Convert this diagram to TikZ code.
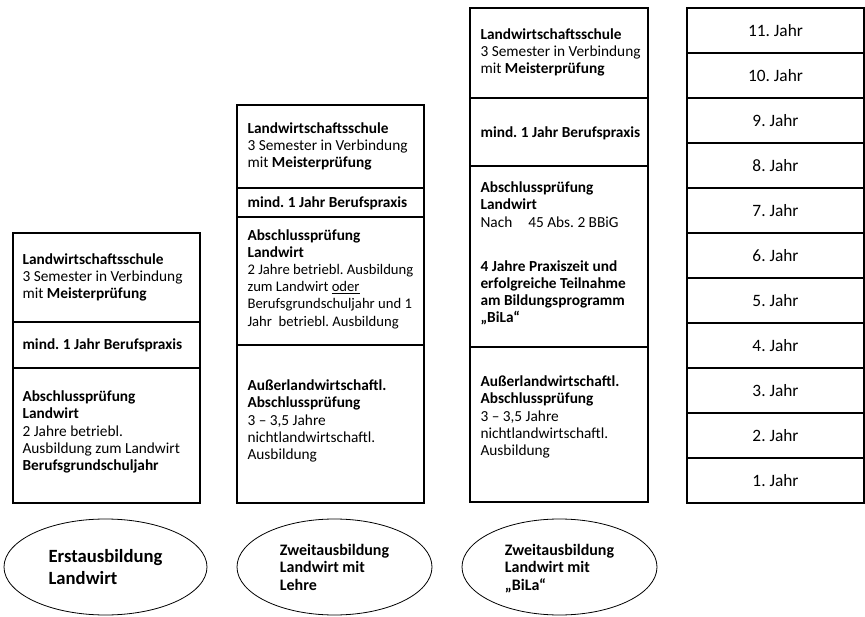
\documentclass[tikz,border=0pt]{standalone}
\usepackage{fontspec}
\setmainfont{Carlito}
\usetikzlibrary{shapes.geometric}
\newcommand{\klein}{\fontsize{11}{12}\selectfont}
\frenchspacing

\begin{document}
\begin{tikzpicture}[x=0.75pt,y=-0.75pt,line width=0.8pt,
  txt/.style={anchor=west,align=left,inner sep=0pt,font=\fontsize{11.5}{12.9}\selectfont},
  oval/.style={draw,ellipse,line width=0.6pt,minimum height=72pt,align=left,inner sep=0pt,text depth=0pt},
  jahr/.style={font=\fontsize{13}{14}\selectfont,inner sep=0pt}]
\useasboundingbox (0,0) rectangle (865,617);
\draw (13,233) rectangle (200,503) (13,322) -- (200,322) (13,368) -- (200,368);
\node[txt] (s1a) at (22,277.5) {\textbf{Landwirtschaftsschule}\\3 Semester in Verbindung\\mit \textbf{Meisterprüfung}};
\node[txt] (s1b) at (22,345) {\textbf{mind. 1 Jahr Berufspraxis}};
\node[txt] (s1c) at (22,432) {\textbf{Abschlussprüfung}\\\textbf{Landwirt}\\2 Jahre betriebl.\\Ausbildung zum Landwirt\\\textbf{Berufsgrundschuljahr}};
\draw (237,105) rectangle (424,503) (237,188) -- (424,188) (237,217) -- (424,217) (237,345) -- (424,345);
\node[txt] (s2a) at (247,146.5) {\textbf{Landwirtschaftsschule}\\3 Semester in Verbindung\\mit \textbf{Meisterprüfung}};
\node[txt] (s2b) at (247,203) {\textbf{mind. 1 Jahr Berufspraxis}};
\node[txt] (s2c) at (247,279) {\textbf{Abschlussprüfung}\\\textbf{Landwirt}\\\klein 2 Jahre betriebl. Ausbildung\\\klein zum Landwirt \underline{oder}\\\klein Berufsgrundschuljahr und 1\\\klein Jahr\ \ betriebl. Ausbildung};
\node[txt] (s2d) at (247,421) {\textbf{Außerlandwirtschaftl.}\\\textbf{Abschlussprüfung}\\3 – 3,5 Jahre\\nichtlandwirtschaftl.\\Ausbildung};
\draw (470,8) rectangle (648,502) (470,98) -- (648,98) (470,166) -- (648,166) (470,347) -- (648,347);
\node[txt] (s3a) at (480,52.5) {\textbf{Landwirtschaftsschule}\\3 Semester in Verbindung\\mit \textbf{Meisterprüfung}};
\node[txt] (s3b) at (480,133) {\textbf{mind. 1 Jahr Berufspraxis}};
\node[txt] (s3c) at (480,253.5) {\textbf{Abschlussprüfung}\\\textbf{Landwirt}\\Nach\hspace{12pt}45 Abs. 2 BBiG\\[20pt]\textbf{4 Jahre Praxiszeit und}\\\textbf{erfolgreiche Teilnahme}\\\textbf{am Bildungsprogramm}\\\textbf{„BiLa“}};
\node[txt] (s3d) at (480,417) {\textbf{Außerlandwirtschaftl.}\\\textbf{Abschlussprüfung}\\3 – 3,5 Jahre\\nichtlandwirtschaftl.\\Ausbildung};
\draw (687,8) rectangle (864,503);
\foreach \j in {1,...,10} \draw (687,{8+45*\j}) -- (864,{8+45*\j});
\foreach \j in {1,...,11} \node[jahr] (j\j) at (775.5,{503-45*(\j-0.5)}) {\j. Jahr};
\node[oval,minimum width=152.25pt,font=\bfseries\fontsize{14}{16.5}\selectfont] (erst) at (105.5,567) {Erstausbildung\\Landwirt};
\node[oval,minimum width=146.25pt,font=\bfseries\fontsize{12}{13.2}\selectfont] (lehre) at (334.5,567) {Zweitausbildung\\Landwirt mit\\Lehre};
\node[oval,minimum width=146.25pt,font=\bfseries\fontsize{12}{13.2}\selectfont] (bila) at (559.5,567) {Zweitausbildung\\Landwirt mit\\„BiLa“};
\end{tikzpicture}
\end{document}
